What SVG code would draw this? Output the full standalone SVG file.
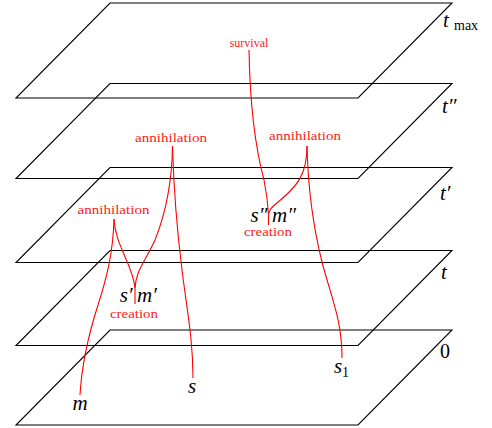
<svg xmlns="http://www.w3.org/2000/svg" width="492" height="428" viewBox="0 0 492 428">
<style>
.plane{fill:none;stroke:#000;stroke-width:1.1;stroke-linejoin:miter}
.wl{fill:none;stroke:#ff0000;stroke-width:1.1}
text{font-family:"Liberation Serif","DejaVu Serif",serif}
.lbl{font-size:12px;fill:#ff2020;text-anchor:middle}
.math{font-style:italic;font-size:21px;fill:#000}
.rm{font-size:20px;fill:#000}
.sub{font-size:14px;fill:#000}
</style>
<rect width="492" height="428" fill="#fff"/>
<g id="plane-tmax">
<path class="plane" d="M110,3 H452 L358,98 H16 Z"/>
<text class="math" x="443" y="27">t</text>
<text class="sub" x="454" y="30">max</text>
</g>
<g id="plane-t2">
<path class="plane" d="M110,83.5 H452 L358,178.5 H16 Z"/>
<text class="math" x="442" y="113">t″</text>
</g>
<g id="plane-t1">
<path class="plane" d="M110,167.5 H452 L358,262.5 H16 Z"/>
<text class="math" x="440" y="200">t′</text>
</g>
<g id="plane-t">
<path class="plane" d="M110,250.5 H452 L358,345.5 H16 Z"/>
<text class="math" x="441" y="279">t</text>
</g>
<g id="plane-0">
<path class="plane" d="M110,330 H452 L358,425 H16 Z"/>
<text class="rm" x="440" y="358">0</text>
</g>
<g id="connectors">
<path class="wl" d="M114,219 C113,255 106,280 98,305 C90,330 82,360 80,395"/>
<path class="wl" d="M114,219 C115,245 133,265 135,288 L135,304"/>
<path class="wl" d="M172.5,146 C172,185 165,215 155,240 C145,262 136,270 135,288"/>
<path class="wl" d="M172.5,146 C174,200 177,230 182,270 C187,310 193,340 193,378"/>
<path class="wl" d="M249,50 C250,110 256,150 264,180 C267,195 268,205 268.5,215 L268.5,225"/>
<path class="wl" d="M307,146 C307,175 296,186 285,196 C274,206 269,208 268.5,215"/>
<path class="wl" d="M307,146 C308,190 314,230 322,262 C332,300 342,320 342,358"/>
</g>
<g id="survival">
<text class="lbl" x="249" y="47">survival</text>
</g>
<g id="annihilation-1">
<text class="lbl" x="113.5" y="214" textLength="72" lengthAdjust="spacingAndGlyphs">annihilation</text>
</g>
<g id="annihilation-2">
<text class="lbl" x="171" y="141.5" textLength="72" lengthAdjust="spacingAndGlyphs">annihilation</text>
</g>
<g id="annihilation-3">
<text class="lbl" x="305" y="140" textLength="72" lengthAdjust="spacingAndGlyphs">annihilation</text>
</g>
<g id="creation-1">
<text class="math" x="132.5" y="302" text-anchor="end">s′</text>
<text class="math" x="137" y="302">m′</text>
<text class="lbl" x="134" y="318" textLength="48" lengthAdjust="spacingAndGlyphs">creation</text>
</g>
<g id="creation-2">
<text class="math" x="267.5" y="222" text-anchor="end">s″</text>
<text class="math" x="272" y="222">m″</text>
<text class="lbl" x="268" y="236" textLength="48" lengthAdjust="spacingAndGlyphs">creation</text>
</g>
<g id="m"><text class="math" x="80" y="410" text-anchor="middle">m</text></g>
<g id="s"><text class="math" x="192" y="393" text-anchor="middle">s</text></g>
<g id="s1"><text class="math" x="334" y="373">s</text><text class="sub" x="342" y="377">1</text></g>
</svg>
